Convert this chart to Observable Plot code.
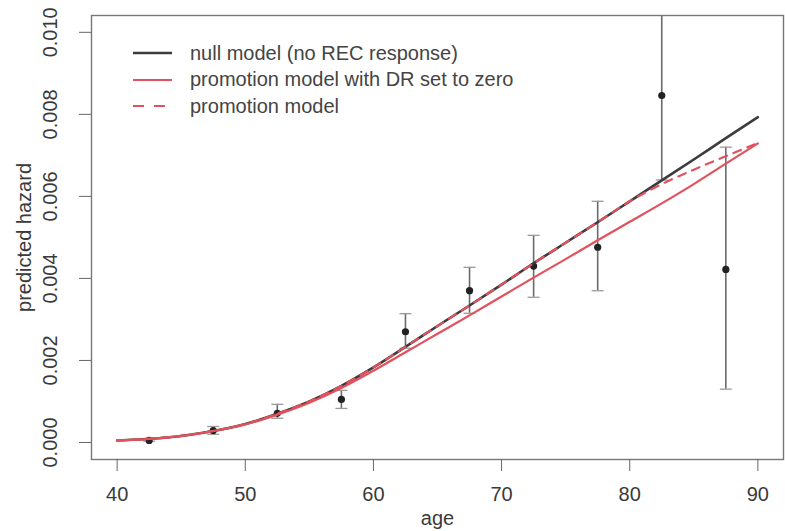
<!DOCTYPE html>
<html>
<head>
<meta charset="utf-8">
<script src="https://cdn.jsdelivr.net/npm/d3@7"></script>
<script src="https://cdn.jsdelivr.net/npm/@observablehq/plot@0.6"></script>
<style>
  body { margin: 0; background: #fff; }
  #wrap { position: relative; width: 785px; height: 531px; font-family: "Liberation Sans", Arial, sans-serif; }
  #legend { position: absolute; left: 133px; top: 40px; font-size: 20px; color: #444; }
  #legend .row { display: flex; align-items: center; height: 26.5px; }
  #legend svg { margin-right: 18px; }
</style>
</head>
<body>
<div id="wrap"><div id="legend"></div></div>
<script>
// model curves
const ages = [40, 42.5, 45, 47.5, 50, 52.5, 55, 57.5, 60, 62.5, 65, 67.5, 70, 72.5, 75, 77.5, 80, 82.5, 85, 87.5, 90];
const nullModel  = [0.00005, 0.00009, 0.00016, 0.00028, 0.00045, 0.00070, 0.00100, 0.00138, 0.00183, 0.00233, 0.00284, 0.00334, 0.00385, 0.00437, 0.00487, 0.00537, 0.00588, 0.00639, 0.00690, 0.00742, 0.00793];
const promoDR0   = [0.00005, 0.00009, 0.00016, 0.00028, 0.00044, 0.00068, 0.00097, 0.00133, 0.00175, 0.00220, 0.00265, 0.00310, 0.00356, 0.00402, 0.00447, 0.00493, 0.00538, 0.00583, 0.00630, 0.00680, 0.00729];
const promoModel = [0.00005, 0.00009, 0.00016, 0.00028, 0.00045, 0.00070, 0.00100, 0.00138, 0.00183, 0.00233, 0.00284, 0.00334, 0.00385, 0.00437, 0.00487, 0.00537, 0.00588, 0.00630, 0.00665, 0.00698, 0.00730];

// observed hazards with intervals
const binAges  = [42.5, 47.5, 52.5, 57.5, 62.5, 67.5, 72.5, 77.5, 82.5, 87.5];
const observed = [0.00005, 0.00029, 0.00071, 0.00105, 0.00270, 0.00370, 0.00430, 0.00476, 0.00846, 0.00422];
const lower    = [0.00003, 0.00020, 0.00059, 0.00083, 0.00230, 0.00315, 0.00354, 0.00370, 0.00640, 0.00130];
const upper    = [0.00008, 0.00039, 0.00093, 0.00127, 0.00314, 0.00427, 0.00505, 0.00588, 0.01250, 0.00720];

const xTicks = [40, 50, 60, 70, 80, 90];
const yTicks = [0, 0.002, 0.004, 0.006, 0.008, 0.010];

const seriesNames = ["null model (no REC response)", "promotion model with DR set to zero", "promotion model"];
const seriesColors = ["#3c3c3c", "#e2515e", "#e2515e"];
const seriesDash = [null, null, "8,7"];
const seriesWidth = [2.6, 2.2, 2.2];

const curves = ages.map((a, i) => ({age: a, nullM: nullModel[i], dr0: promoDR0[i], promo: promoModel[i]}));
const bins = binAges.map((a, i) => ({age: a, obs: observed[i], lo: lower[i], hi: upper[i]}));

const capSymbol = { draw(context, size) { const w = Math.sqrt(size / Math.PI); context.moveTo(-w, 0); context.lineTo(w, 0); } };

const txt = "#3a3a3a";
const chart = Plot.plot({
  width: 785, height: 531,
  marginLeft: 91, marginRight: 2, marginTop: 15, marginBottom: 72,
  style: { fontFamily: '"Liberation Sans", Arial, sans-serif', background: "transparent" },
  x: { domain: [38, 92] },
  y: { domain: [-0.000415, 0.01041] },
  marks: [
    Plot.ruleX(bins, { x: "age", y1: "lo", y2: "hi", stroke: "#6a6a6a", strokeWidth: 1.6, clip: "frame" }),
    Plot.dot(bins, { x: "age", y: "lo", symbol: capSymbol, r: 6, stroke: "#9a9a9a", strokeWidth: 1.3, clip: "frame" }),
    Plot.dot(bins, { x: "age", y: "hi", symbol: capSymbol, r: 6, stroke: "#9a9a9a", strokeWidth: 1.3, clip: "frame" }),
    Plot.dot(bins, { x: "age", y: "obs", r: 3.6, fill: "#222", stroke: "none" }),
    Plot.line(curves, { x: "age", y: "nullM", stroke: seriesColors[0], strokeWidth: seriesWidth[0], curve: "monotone-x" }),
    Plot.line(curves, { x: "age", y: "dr0", stroke: seriesColors[1], strokeWidth: seriesWidth[1], curve: "monotone-x" }),
    Plot.line(curves, { x: "age", y: "promo", stroke: seriesColors[2], strokeWidth: seriesWidth[2], strokeDasharray: seriesDash[2], curve: "monotone-x" }),
    Plot.frame({ stroke: "#777", strokeWidth: 1.4 }),
    Plot.axisX({ ticks: xTicks, tickSize: 12, tickPadding: 15, fontSize: 20, fill: txt, stroke: "#666", label: null, tickFormat: d => d }),
    Plot.axisY({ ticks: yTicks, tickSize: 12, tickFormat: () => "", stroke: "#666", label: null }),
    Plot.text(yTicks, { y: d => d, frameAnchor: "left", dx: -41, rotate: -90, text: d => d.toFixed(3), fontSize: 20, fill: txt, textAnchor: "middle", lineAnchor: "middle" }),
    Plot.text(["age"], { frameAnchor: "bottom", dy: 59, text: d => d, fontSize: 20, fill: txt, lineAnchor: "middle" }),
    Plot.text(["predicted hazard"], { frameAnchor: "left", dx: -67, rotate: -90, text: d => d, fontSize: 20, fill: txt, textAnchor: "middle", lineAnchor: "middle" })
  ]
});
document.getElementById("wrap").prepend(chart);

const legend = document.getElementById("legend");
seriesNames.forEach((name, i) => {
  const row = document.createElement("div");
  row.className = "row";
  const dash = seriesDash[i] ? `stroke-dasharray="11,10"` : "";
  row.innerHTML = `<svg width="39" height="6"><line x1="0" x2="39" y1="3" y2="3" stroke="${seriesColors[i]}" stroke-width="${seriesWidth[i]}" ${dash}/></svg><span>${name}</span>`;
  legend.appendChild(row);
});
</script>
</body>
</html>
